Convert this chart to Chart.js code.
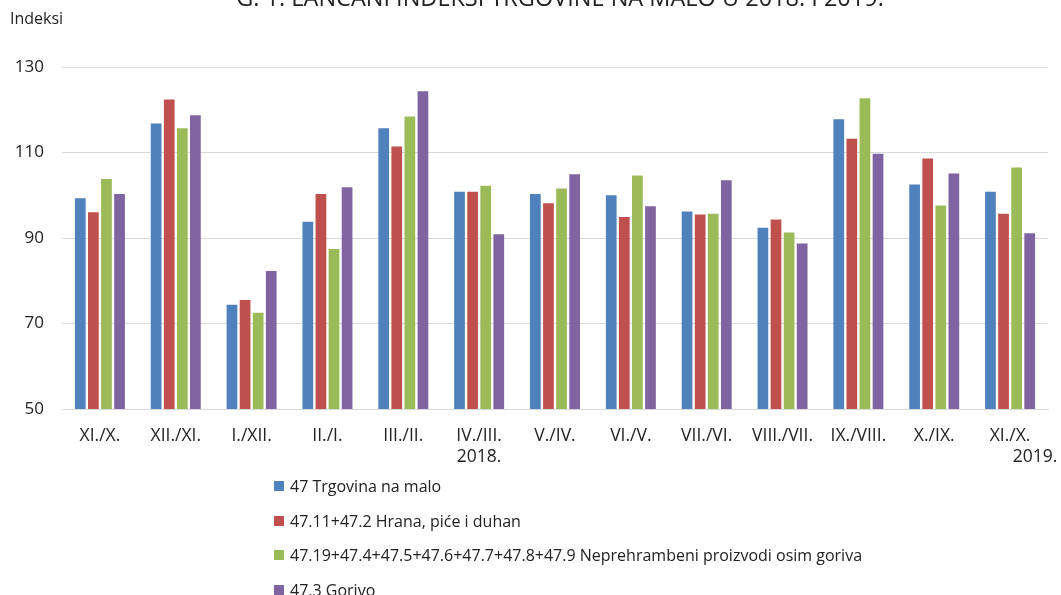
<!DOCTYPE html>
<html>
<head>
<meta charset="utf-8">
<script src="https://cdn.jsdelivr.net/npm/chart.js@4.4.1/dist/chart.umd.min.js"></script>
<style>
  body { margin: 0; background: #fff; font-family: "Open Sans", sans-serif; }
  #wrap { position: relative; width: 1061px; height: 595px; overflow: hidden; }
  #box { position: absolute; left: 0; top: 0; width: 1061px; height: 487px; }
  #legend { position: absolute; left: 274px; top: 469px; font-size: 16px; color: #222; }
  #legend div { height: 34.5px; display: flex; align-items: center; }
  #legend span.sw { display: inline-block; width: 10px; height: 10px; margin-right: 6px; }
</style>
</head>
<body>
<div id="wrap">
  <div id="box"><canvas id="c"></canvas></div>
  <div id="legend"></div>
</div>
<script>
const categories = [
  ['XI./X.'], ['XII./XI.'], ['I./XII.'], ['II./I.'], ['III./II.'], ['IV./III.', '2018.'],
  ['V./IV.'], ['VI./V.'], ['VII./VI.'], ['VIII./VII.'], ['IX./VIII.'], ['X./IX.'], ['XI./X.']
];
const yearLabel2019 = '2019.';
const seriesNames = [
  '47 Trgovina na malo',
  '47.11+47.2 Hrana, piće i duhan',
  '47.19+47.4+47.5+47.6+47.7+47.8+47.9 Neprehrambeni proizvodi osim goriva',
  '47.3 Gorivo'
];
const trgovina = [99.3, 116.8, 74.4, 93.8, 115.7, 100.8, 100.3, 100.0, 96.2, 92.4, 117.8, 102.5, 100.8];
const hrana = [96.0, 122.4, 75.5, 100.3, 111.4, 100.8, 98.1, 94.9, 95.5, 94.3, 113.2, 108.6, 95.7];
const neprehrambeni = [103.8, 115.7, 72.5, 87.4, 118.4, 102.2, 101.6, 104.6, 95.7, 91.3, 122.7, 97.6, 106.5];
const gorivo = [100.3, 118.7, 82.3, 101.9, 124.3, 90.9, 104.9, 97.4, 103.5, 88.7, 109.7, 105.1, 91.1];
const yTicks = [50, 70, 90, 110, 130];
const colors = ['#4F81BD', '#C0504D', '#9BBB59', '#8064A2'];

const values = [trgovina, hrana, neprehrambeni, gorivo];

// title (cut off at the top), the "Indeksi" label and the year under the last category
const extras = {
  id: 'extras',
  afterDraw(chart) {
    const ctx = chart.ctx;
    ctx.save();
    ctx.fillStyle = '#222';
    ctx.font = '23.5px "Open Sans"';
    ctx.textAlign = 'center';
    ctx.textBaseline = 'alphabetic';
    ctx.fillText('G. 1. LANČANI INDEKSI TRGOVINE NA MALO U 2018. I 2019.', 560, 6);
    ctx.font = '16px "Open Sans"';
    ctx.textAlign = 'left';
    ctx.fillText('Indeksi', 10, 24);
    // year sits to the right of the last label, as in the original
    const x = chart.scales.x;
    ctx.font = '17.5px "Open Sans"';
    ctx.textAlign = 'center';
    ctx.textBaseline = 'middle';
    ctx.fillText(yearLabel2019, x.getPixelForValue(categories.length - 1) + 25, chart.chartArea.bottom + 17 + 31.5);
    ctx.restore();
  }
};

const chart = new Chart(document.getElementById('c'), {
  type: 'bar',
  data: {
    labels: categories,
    datasets: seriesNames.map((name, i) => ({
      label: name,
      data: values[i],
      backgroundColor: colors[i],
      borderWidth: 0,
      categoryPercentage: 0.69,
      barPercentage: 0.82
    }))
  },
  options: {
    responsive: true,
    maintainAspectRatio: false,
    animation: false,
    layout: { padding: { top: 67, left: 16, right: 13, bottom: 2 } },
    plugins: {
      legend: { display: false },
      tooltip: { enabled: false }
    },
    scales: {
      x: {
        grid: { display: false, drawTicks: false },
        border: { display: true, color: '#d9d9d9', width: 1 },
        ticks: { color: '#222', font: { family: 'Open Sans', size: 17.5 }, padding: 17, maxRotation: 0, autoSkip: false }
      },
      y: {
        min: 50,
        max: 130,
        afterBuildTicks(scale) { scale.ticks = yTicks.map(v => ({ value: v })); },
        afterFit(scale) { scale.width = 46; },
        grid: { color: '#d9d9d9', drawTicks: false },
        border: { display: false },
        ticks: { color: '#222', font: { family: 'Open Sans', size: 17 }, padding: 18 }
      }
    }
  },
  plugins: [extras]
});

// legend below, one entry per row
const leg = document.getElementById('legend');
seriesNames.forEach((name, i) => {
  const row = document.createElement('div');
  const sw = document.createElement('span');
  sw.className = 'sw';
  sw.style.background = colors[i];
  row.appendChild(sw);
  row.appendChild(document.createTextNode(name));
  leg.appendChild(row);
});
</script>
</body>
</html>
